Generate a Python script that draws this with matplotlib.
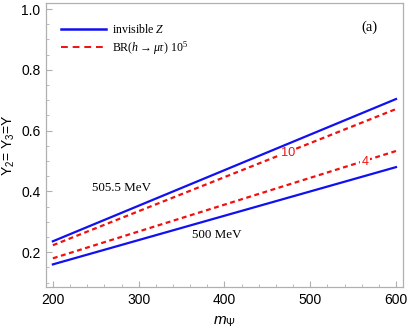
import numpy as np
import matplotlib
matplotlib.use("Agg")
import matplotlib.pyplot as plt
from matplotlib.lines import Line2D
from matplotlib.ticker import MultipleLocator

plt.rcParams['font.family'] = ['Liberation Sans', 'DejaVu Sans']
plt.rcParams['mathtext.fontset'] = 'custom'
plt.rcParams['mathtext.rm'] = 'Liberation Serif'
plt.rcParams['mathtext.it'] = 'Liberation Serif:italic'
plt.rcParams['mathtext.sf'] = 'Liberation Sans:italic'
plt.rcParams['mathtext.default'] = 'regular'

# data
m_psi = [200, 600]
z_505 = [0.236, 0.704]   # invisible Z, 505.5 MeV
z_500 = [0.160, 0.480]   # invisible Z, 500 MeV
br_10 = [0.223, 0.671]   # BR(h->mu tau) 1e5 = 10
br_4 = [0.180, 0.533]    # BR(h->mu tau) 1e5 = 4

blue = '#1010f0'
red = '#f01010'
grey = '#b0b0b0'

fig = plt.figure(figsize=(4.09, 3.32), dpi=100)
ax = fig.add_axes([0.1125, 0.135, 0.8725, 0.856])

ax.plot(m_psi, br_10, color=red, lw=1.6, ls=(0, (2.2, 1.6)), zorder=2)
ax.plot(m_psi, br_4, color=red, lw=1.6, ls=(0, (2.2, 1.6)), zorder=2)

# contour labels (white box cuts the dashed line, blue lines stay on top)
for val, xs, ys in [('10', 474, br_10), ('4', 564, br_4)]:
    yl = np.interp(xs, m_psi, ys)
    ax.text(xs, yl - 0.005, val, color=red, fontsize=9.2, ha='center', va='center', zorder=3,
            bbox=dict(facecolor='white', edgecolor='none', pad=0.8))

ax.plot(m_psi, z_505, color=blue, lw=1.6, zorder=4)
ax.plot(m_psi, z_500, color=blue, lw=1.6, zorder=4)

ax.text(280, 0.41, '505.5 MeV', family='Liberation Serif', fontsize=9.4, ha='center', va='center')
ax.text(391, 0.258, '500 MeV', family='Liberation Serif', fontsize=9.4, ha='center', va='center')
ax.text(569, 0.94, '(a)', family='Liberation Serif', fontsize=10.5, ha='center', va='center')

ax.set_xlim(192, 608)
ax.set_ylim(0.085, 1.02)
ax.xaxis.set_major_locator(MultipleLocator(100))
ax.xaxis.set_minor_locator(MultipleLocator(20))
ax.yaxis.set_major_locator(MultipleLocator(0.2))
ax.yaxis.set_minor_locator(MultipleLocator(0.05))
ax.yaxis.set_major_formatter(matplotlib.ticker.FormatStrFormatter('%.1f'))
ax.tick_params(which='both', direction='in', color=grey, top=False, right=False)
ax.tick_params(which='major', length=4, labelsize=10, pad=4)
ax.tick_params(which='minor', length=2.2)
for s in ax.spines.values():
    s.set_color(grey)
    s.set_linewidth(0.9)

ax.set_xlabel(r'$\mathsf{m}_{\Psi}$', fontsize=11, labelpad=6)
ax.set_ylabel(r'Y$_2$= Y$_3$=Y', fontsize=10, labelpad=3)

handles = [Line2D([], [], color=blue, lw=1.8),
           Line2D([], [], color=red, lw=1.4, ls=(0, (3.5, 2.5)))]
labels = ['invisible $\\mathit{Z}$',
          r'BR($\mathit{h}\rightarrow\mathit{\mu\tau}$) 10$^5$']
ax.legend(handles, labels, loc='upper left', bbox_to_anchor=(0.042, 0.93),
          frameon=False, prop={'family': 'Liberation Serif', 'size': 8.6},
          borderpad=0, borderaxespad=0,
          handlelength=3.8, handletextpad=0.45, labelspacing=0.3)

fig.savefig('out.png', dpi=100)
